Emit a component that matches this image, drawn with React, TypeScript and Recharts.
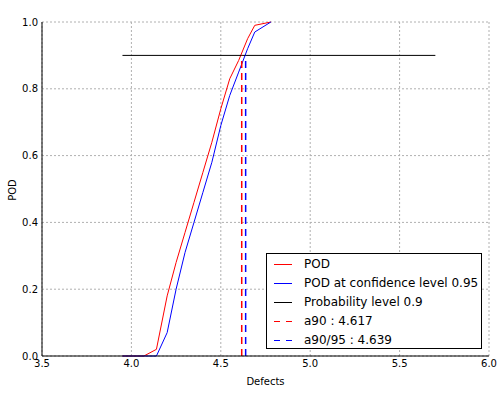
import React from 'react';
import { LineChart, Line, XAxis, YAxis, CartesianGrid, Legend } from 'recharts';

const defects = [3.95, 4.07, 4.14, 4.2, 4.25, 4.3, 4.35, 4.4, 4.45, 4.5, 4.55, 4.6, 4.65, 4.69, 4.78];
const podValues = [0, 0, 0.02, 0.18, 0.28, 0.37, 0.46, 0.55, 0.64, 0.74, 0.83, 0.885, 0.95, 0.99, 1.0];
const podConfValues = [0, 0, 0, 0.07, 0.2, 0.31, 0.4, 0.49, 0.58, 0.69, 0.78, 0.85, 0.92, 0.97, 1.0];
const probabilityLevel = 0.9;
const levelRange = [3.95, 5.7];
const a90 = 4.617;
const a9095 = 4.639;

const xTicks = [3.5, 4.0, 4.5, 5.0, 5.5, 6.0];
const yTicks = [0.0, 0.2, 0.4, 0.6, 0.8, 1.0];

const podData = defects.map((x, i) => ({ x, y: podValues[i] }));
const podConfData = defects.map((x, i) => ({ x, y: podConfValues[i] }));
const levelData = levelRange.map((x) => ({ x, y: probabilityLevel }));
const a90Data = [{ x: a90, y: 0 }, { x: a90, y: probabilityLevel }];
const a9095Data = [{ x: a9095, y: 0 }, { x: a9095, y: probabilityLevel }];

const legendItems = [
  { label: 'POD', color: '#ff0000', dash: undefined as string | undefined },
  { label: 'POD at confidence level 0.95', color: '#0000ff', dash: undefined },
  { label: 'Probability level 0.9', color: '#000000', dash: undefined },
  { label: `a90 : ${a90.toFixed(3)}`, color: '#ff0000', dash: '6 6' },
  { label: `a90/95 : ${a9095.toFixed(3)}`, color: '#0000ff', dash: '6 6' },
];

const FONT = 'DejaVu Sans, sans-serif';

const LegendBox = () => (
  <div
    style={{
      width: 216,
      height: 96,
      border: '1px solid #000',
      background: '#fff',
      fontFamily: FONT,
      fontSize: 12,
      color: '#000',
      boxSizing: 'border-box',
      paddingTop: 1,
    }}
  >
    {legendItems.map((it) => (
      <div key={it.label} style={{ display: 'flex', alignItems: 'center', height: 19, lineHeight: '19px' }}>
        <svg width={36} height={19} style={{ flex: '0 0 auto' }}>
          <line x1={7} x2={25} y1={9.5} y2={9.5} stroke={it.color} strokeWidth={1} strokeDasharray={it.dash} />
        </svg>
        <span style={{ whiteSpace: 'nowrap', marginLeft: 1 }}>{it.label}</span>
      </div>
    ))}
  </div>
);

export default function App() {
  return (
    <div style={{ position: 'absolute', left: 0, top: 0, width: 503, height: 393, background: '#fff' }}>
      <LineChart width={503} height={393} margin={{ top: 22, right: 14, bottom: 0, left: 0 }}>
        <CartesianGrid stroke="#b0b0b0" strokeDasharray="2 2" />
        <XAxis
          dataKey="x"
          type="number"
          domain={[3.5, 6.0]}
          ticks={xTicks}
          allowDataOverflow
          height={37}
          tickSize={0}
          tickMargin={4}
          tickFormatter={(v: number) => v.toFixed(1)}
          tick={{ fontSize: 10, fill: '#000', fontFamily: FONT }}
          axisLine={{ stroke: '#000', strokeWidth: 1 }}
          label={{ value: 'Defects', position: 'insideBottom', offset: 8, fontSize: 10, fill: '#000', fontFamily: FONT }}
        />
        <XAxis
          xAxisId="top"
          orientation="top"
          dataKey="x"
          type="number"
          domain={[3.5, 6.0]}
          ticks={xTicks}
          height={0}
          tick={false}
          tickLine={false}
          axisLine={{ stroke: '#000', strokeWidth: 1 }}
          label={{ value: 'POD - Kriging model', position: 'top', offset: 5, fontSize: 12, fill: '#000', fontFamily: FONT }}
        />
        <YAxis
          type="number"
          domain={[0, 1]}
          ticks={yTicks}
          width={42}
          tickSize={0}
          tickMargin={4}
          tickFormatter={(v: number) => v.toFixed(1)}
          tick={{ fontSize: 10, fill: '#000', fontFamily: FONT }}
          axisLine={{ stroke: '#000', strokeWidth: 1 }}
          label={{
            value: 'POD',
            content: () => (
              <text x={12} y={190} transform="rotate(-90 12 190)" textAnchor="middle" dominantBaseline="central" fontSize={10} fontFamily={FONT} fill="#000">
                POD
              </text>
            ),
          }}
        />
        <YAxis
          yAxisId="right"
          orientation="right"
          type="number"
          domain={[0, 1]}
          ticks={yTicks}
          width={0}
          tick={false}
          tickLine={false}
          axisLine={{ stroke: '#000', strokeWidth: 1 }}
        />
        <Line data={podData} dataKey="y" name="POD" stroke="#ff0000" strokeWidth={1} dot={false} isAnimationActive={false} />
        <Line data={podConfData} dataKey="y" name="POD at confidence level 0.95" stroke="#0000ff" strokeWidth={1} dot={false} isAnimationActive={false} />
        <Line data={levelData} dataKey="y" name="Probability level 0.9" stroke="#000000" strokeWidth={1} dot={false} isAnimationActive={false} />
        <Line data={a90Data} dataKey="y" name="a90" stroke="#ff0000" strokeWidth={1.5} strokeDasharray="7 5" dot={false} isAnimationActive={false} />
        <Line data={a9095Data} dataKey="y" name="a90/95" stroke="#0000ff" strokeWidth={1.5} strokeDasharray="7 5" dot={false} isAnimationActive={false} />
        <Legend
          layout="vertical"
          align="center"
          verticalAlign="middle"
          content={() => <LegendBox />}
          wrapperStyle={{ left: 266, top: 253, width: 218, height: 98 }}
        />
      </LineChart>
    </div>
  );
}
